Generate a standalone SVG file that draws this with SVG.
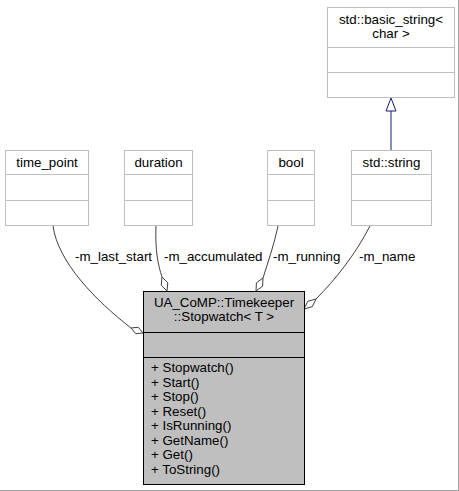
<svg xmlns="http://www.w3.org/2000/svg" width="459" height="491" viewBox="0 0 459 491">
<style>
text{font-family:"Liberation Sans",Arial,Helvetica,sans-serif;font-size:13.33px;fill:#000}
.c{text-anchor:middle}
.box{fill:#fff;stroke:#bfbfbf;stroke-width:1}
.div{stroke:#bfbfbf;stroke-width:1}
.main{fill:#bfbfbf;stroke:#000;stroke-width:1}
.mdiv{stroke:#000;stroke-width:1}
.edge{fill:none;stroke:#404040;stroke-width:1}
.dia{fill:#fff;stroke:#404040;stroke-width:1}
.inh{fill:none;stroke:#191970;stroke-width:1}
.tri{fill:#fff;stroke:#191970;stroke-width:1}
</style>
<rect x="0" y="0" width="459" height="491" fill="#fff"/>
<line x1="458.5" y1="0" x2="458.5" y2="491" stroke="#a0a0a0"/>
<line x1="0" y1="490.5" x2="459" y2="490.5" stroke="#a0a0a0"/>
<g id="connectors">
<path class="edge" d="M53,226 C58,262 95,300 131,328"/>
<polygon class="dia" points="131,328 135.7,333.7 143,333 138.3,327.3"/>
<path class="edge" d="M156,226 C155,250 158,265 162,277"/>
<polygon class="dia" points="162,277 161.2,285.2 167,291 167.8,282.8"/>
<path class="edge" d="M278,226 C274,245 268,262 263,278"/>
<polygon class="dia" points="263,278 262.6,286.2 256,291 256.4,282.8"/>
<path class="edge" d="M370,226 C355,255 335,280 316,299"/>
<polygon class="dia" points="316,299 312.2,306.7 304,309 307.8,301.3"/>
<line class="inh" x1="391" y1="150" x2="391" y2="111"/>
<polygon class="tri" points="391,98 386,111 396,111"/>
<text x="75" y="261">-m_last_start</text>
<text x="164" y="261">-m_accumulated</text>
<text x="273" y="261">-m_running</text>
<text x="359" y="261">-m_name</text>
</g>
<g id="node-time_point">
<rect class="box" x="5.5" y="150.5" width="83" height="75"/>
<line class="div" x1="5.5" y1="174.5" x2="88.5" y2="174.5"/>
<line class="div" x1="5.5" y1="200.5" x2="88.5" y2="200.5"/>
<text class="c" x="47" y="167">time_point</text>
</g>
<g id="node-duration">
<rect class="box" x="124.5" y="150.5" width="68" height="75"/>
<line class="div" x1="124.5" y1="174.5" x2="192.5" y2="174.5"/>
<line class="div" x1="124.5" y1="200.5" x2="192.5" y2="200.5"/>
<text class="c" x="158.5" y="167">duration</text>
</g>
<g id="node-bool">
<rect class="box" x="267.5" y="150.5" width="47" height="75"/>
<line class="div" x1="267.5" y1="174.5" x2="314.5" y2="174.5"/>
<line class="div" x1="267.5" y1="200.5" x2="314.5" y2="200.5"/>
<text class="c" x="291" y="167">bool</text>
</g>
<g id="node-std_string">
<rect class="box" x="351.5" y="150.5" width="80" height="75"/>
<line class="div" x1="351.5" y1="174.5" x2="431.5" y2="174.5"/>
<line class="div" x1="351.5" y1="200.5" x2="431.5" y2="200.5"/>
<text class="c" x="391.5" y="167">std::string</text>
</g>
<g id="node-basic_string">
<rect class="box" x="327.5" y="7.5" width="127" height="90"/>
<line class="div" x1="327.5" y1="47.5" x2="454.5" y2="47.5"/>
<line class="div" x1="327.5" y1="72.5" x2="454.5" y2="72.5"/>
<text class="c" x="391" y="24">std::basic_string&lt;</text>
<text class="c" x="391" y="38">char &gt;</text>
</g>
<g id="node-stopwatch">
<rect class="main" x="143.5" y="291.5" width="161" height="193"/>
<line class="mdiv" x1="143.5" y1="332.5" x2="304.5" y2="332.5"/>
<line class="mdiv" x1="143.5" y1="357.5" x2="304.5" y2="357.5"/>
<text class="c" x="224" y="307">UA_CoMP::Timekeeper</text>
<text class="c" x="224" y="321">::Stopwatch&lt; T &gt;</text>
<text x="151" y="372">+ Stopwatch()</text>
<text x="151" y="386.5">+ Start()</text>
<text x="151" y="401">+ Stop()</text>
<text x="151" y="415.5">+ Reset()</text>
<text x="151" y="430">+ IsRunning()</text>
<text x="151" y="444.5">+ GetName()</text>
<text x="151" y="459">+ Get()</text>
<text x="151" y="473.5">+ ToString()</text>
</g>
</svg>
